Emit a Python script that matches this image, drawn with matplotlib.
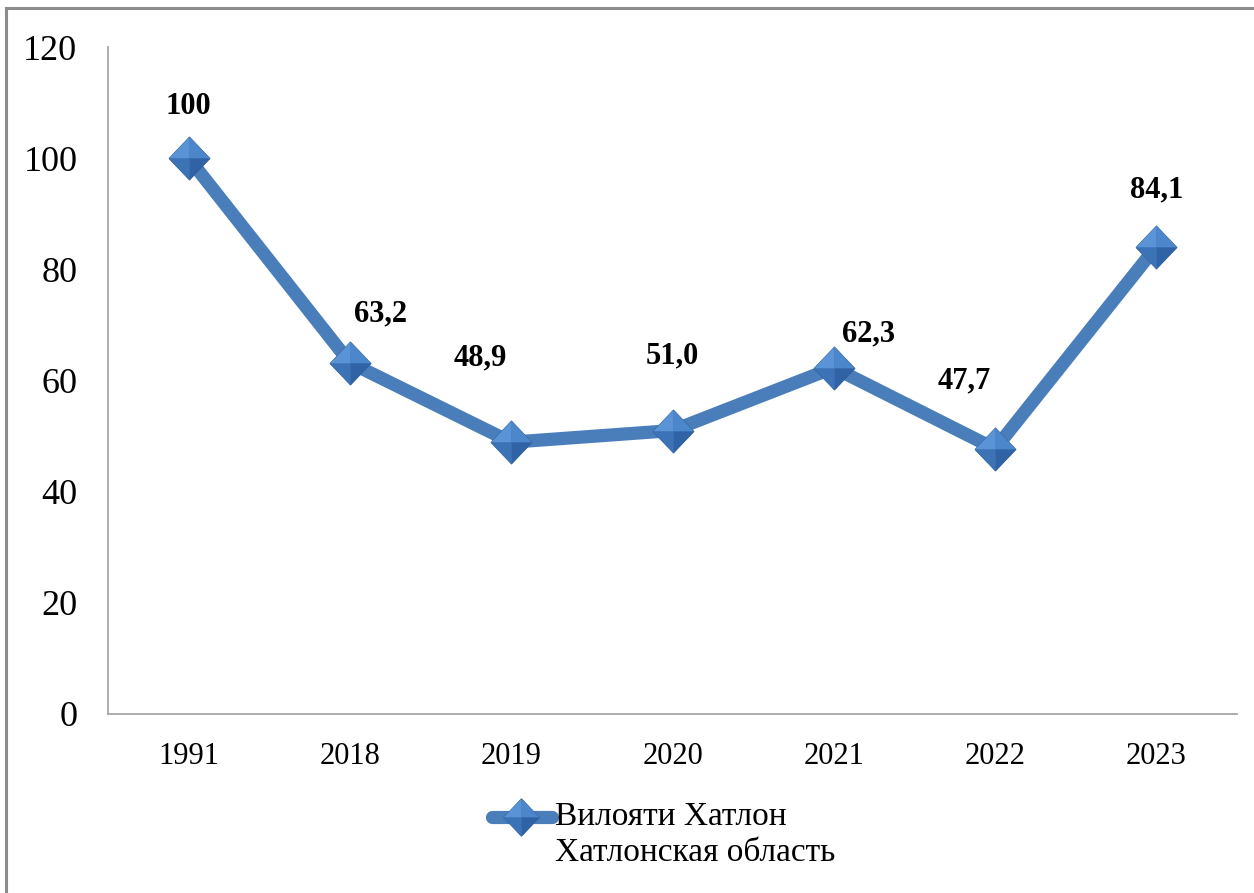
import matplotlib
matplotlib.use("Agg")
import matplotlib.pyplot as plt
from matplotlib.lines import Line2D

years = ["1991", "2018", "2019", "2020", "2021", "2022", "2023"]
values = [100, 63.2, 48.9, 51.0, 62.3, 47.7, 84.1]
value_labels = ["100", "63,2", "48,9", "51,0", "62,3", "47,7", "84,1"]
series_name = "Вилояти Хатлон"
series_name2 = "Хатлонская область"
yticks = [0, 20, 40, 60, 80, 100, 120]

# label offsets in points (style)
label_offsets = [(0, 37), (22, 35), (-22, 61), (0, 54), (25, 24), (-22, 49), (0, 41)]

plt.rcParams['font.family'] = ['Liberation Serif', 'DejaVu Serif']

W, H = 1254, 893
fig = plt.figure(figsize=(W / 100, H / 100), dpi=100)
ax = fig.add_axes([108 / W, 1 - 714 / H, (1237 - 108) / W, (714 - 47) / H])

line_color = "#4A7EBB"
edge_col = "#2E5E98"

k = 1.05
diamond = [(-1, 0), (0, k), (1, 0), (0, -k), (-1, 0)]
facets = [
    ([(0, 0), (-1, 0), (0, k), (0, 0)], "#5A93D6"),
    ([(0, 0), (0, k), (1, 0), (0, 0)], "#4C86CB"),
    ([(0, 0), (1, 0), (0, -k), (0, 0)], "#2F63A6"),
    ([(0, 0), (0, -k), (-1, 0), (0, 0)], "#3C72B6"),
]


def draw_marker(target, xs, ys, ms, transform=None, z=3):
    kw = {} if transform is None else {"transform": transform}
    arts = []
    arts.append(Line2D(xs, ys, linestyle="none", marker=diamond, markersize=ms,
                       markerfacecolor="#3C72B6", markeredgecolor=edge_col,
                       markeredgewidth=0.6, zorder=z, **kw))
    for verts, col in facets:
        arts.append(Line2D(xs, ys, linestyle="none", marker=verts, markersize=ms,
                           markerfacecolor=col, markeredgecolor="none", zorder=z + 0.1, **kw))
    for a in arts:
        target(a)


x = list(range(len(years)))
ax.plot(x, values, color=line_color, lw=9.5, solid_joinstyle="miter", zorder=2)
draw_marker(ax.add_line, x, values, 31)

for xi, v, lab, off in zip(x, values, value_labels, label_offsets):
    ax.annotate(lab, (xi, v), xytext=off, textcoords="offset points",
                ha="center", va="center", fontsize=22, fontweight="bold", color="black")

ax.set_xlim(-0.5, len(years) - 0.5)
ax.set_ylim(0, 120)
ax.set_yticks(yticks)
ax.set_yticklabels([str(t) for t in yticks])
ax.set_xticks(x)
ax.set_xticklabels(years)
ax.tick_params(axis="y", length=0, pad=22, labelsize=26)
ax.tick_params(axis="x", length=0, pad=20, labelsize=22)
for s in ["top", "right"]:
    ax.spines[s].set_visible(False)
for s in ["left", "bottom"]:
    ax.spines[s].set_color("#A6A6A6")
    ax.spines[s].set_linewidth(1.3)

# legend (manual, handle aligned with first line)
ly = 1 - 817 / H
fig.add_artist(Line2D([492 / W, 552 / W], [ly, ly], color=line_color, lw=9.5,
                      solid_capstyle="round", transform=fig.transFigure))
draw_marker(fig.add_artist, [521 / W], [ly], 27, transform=fig.transFigure)
fig.text(555 / W, ly, series_name, fontsize=24, ha="left", va="center")
fig.text(555 / W, 1 - 853 / H, series_name2, fontsize=24, ha="left", va="center")

# outer frame (top and left visible)
fig.add_artist(Line2D([6 / W, 1.0], [1 - 8 / H, 1 - 8 / H], color="#8C8C8C", lw=2.2,
                      transform=fig.transFigure))
fig.add_artist(Line2D([6 / W, 6 / W], [0, 1 - 8 / H], color="#8C8C8C", lw=2.2,
                      transform=fig.transFigure))

fig.savefig("out.png", dpi=100)
